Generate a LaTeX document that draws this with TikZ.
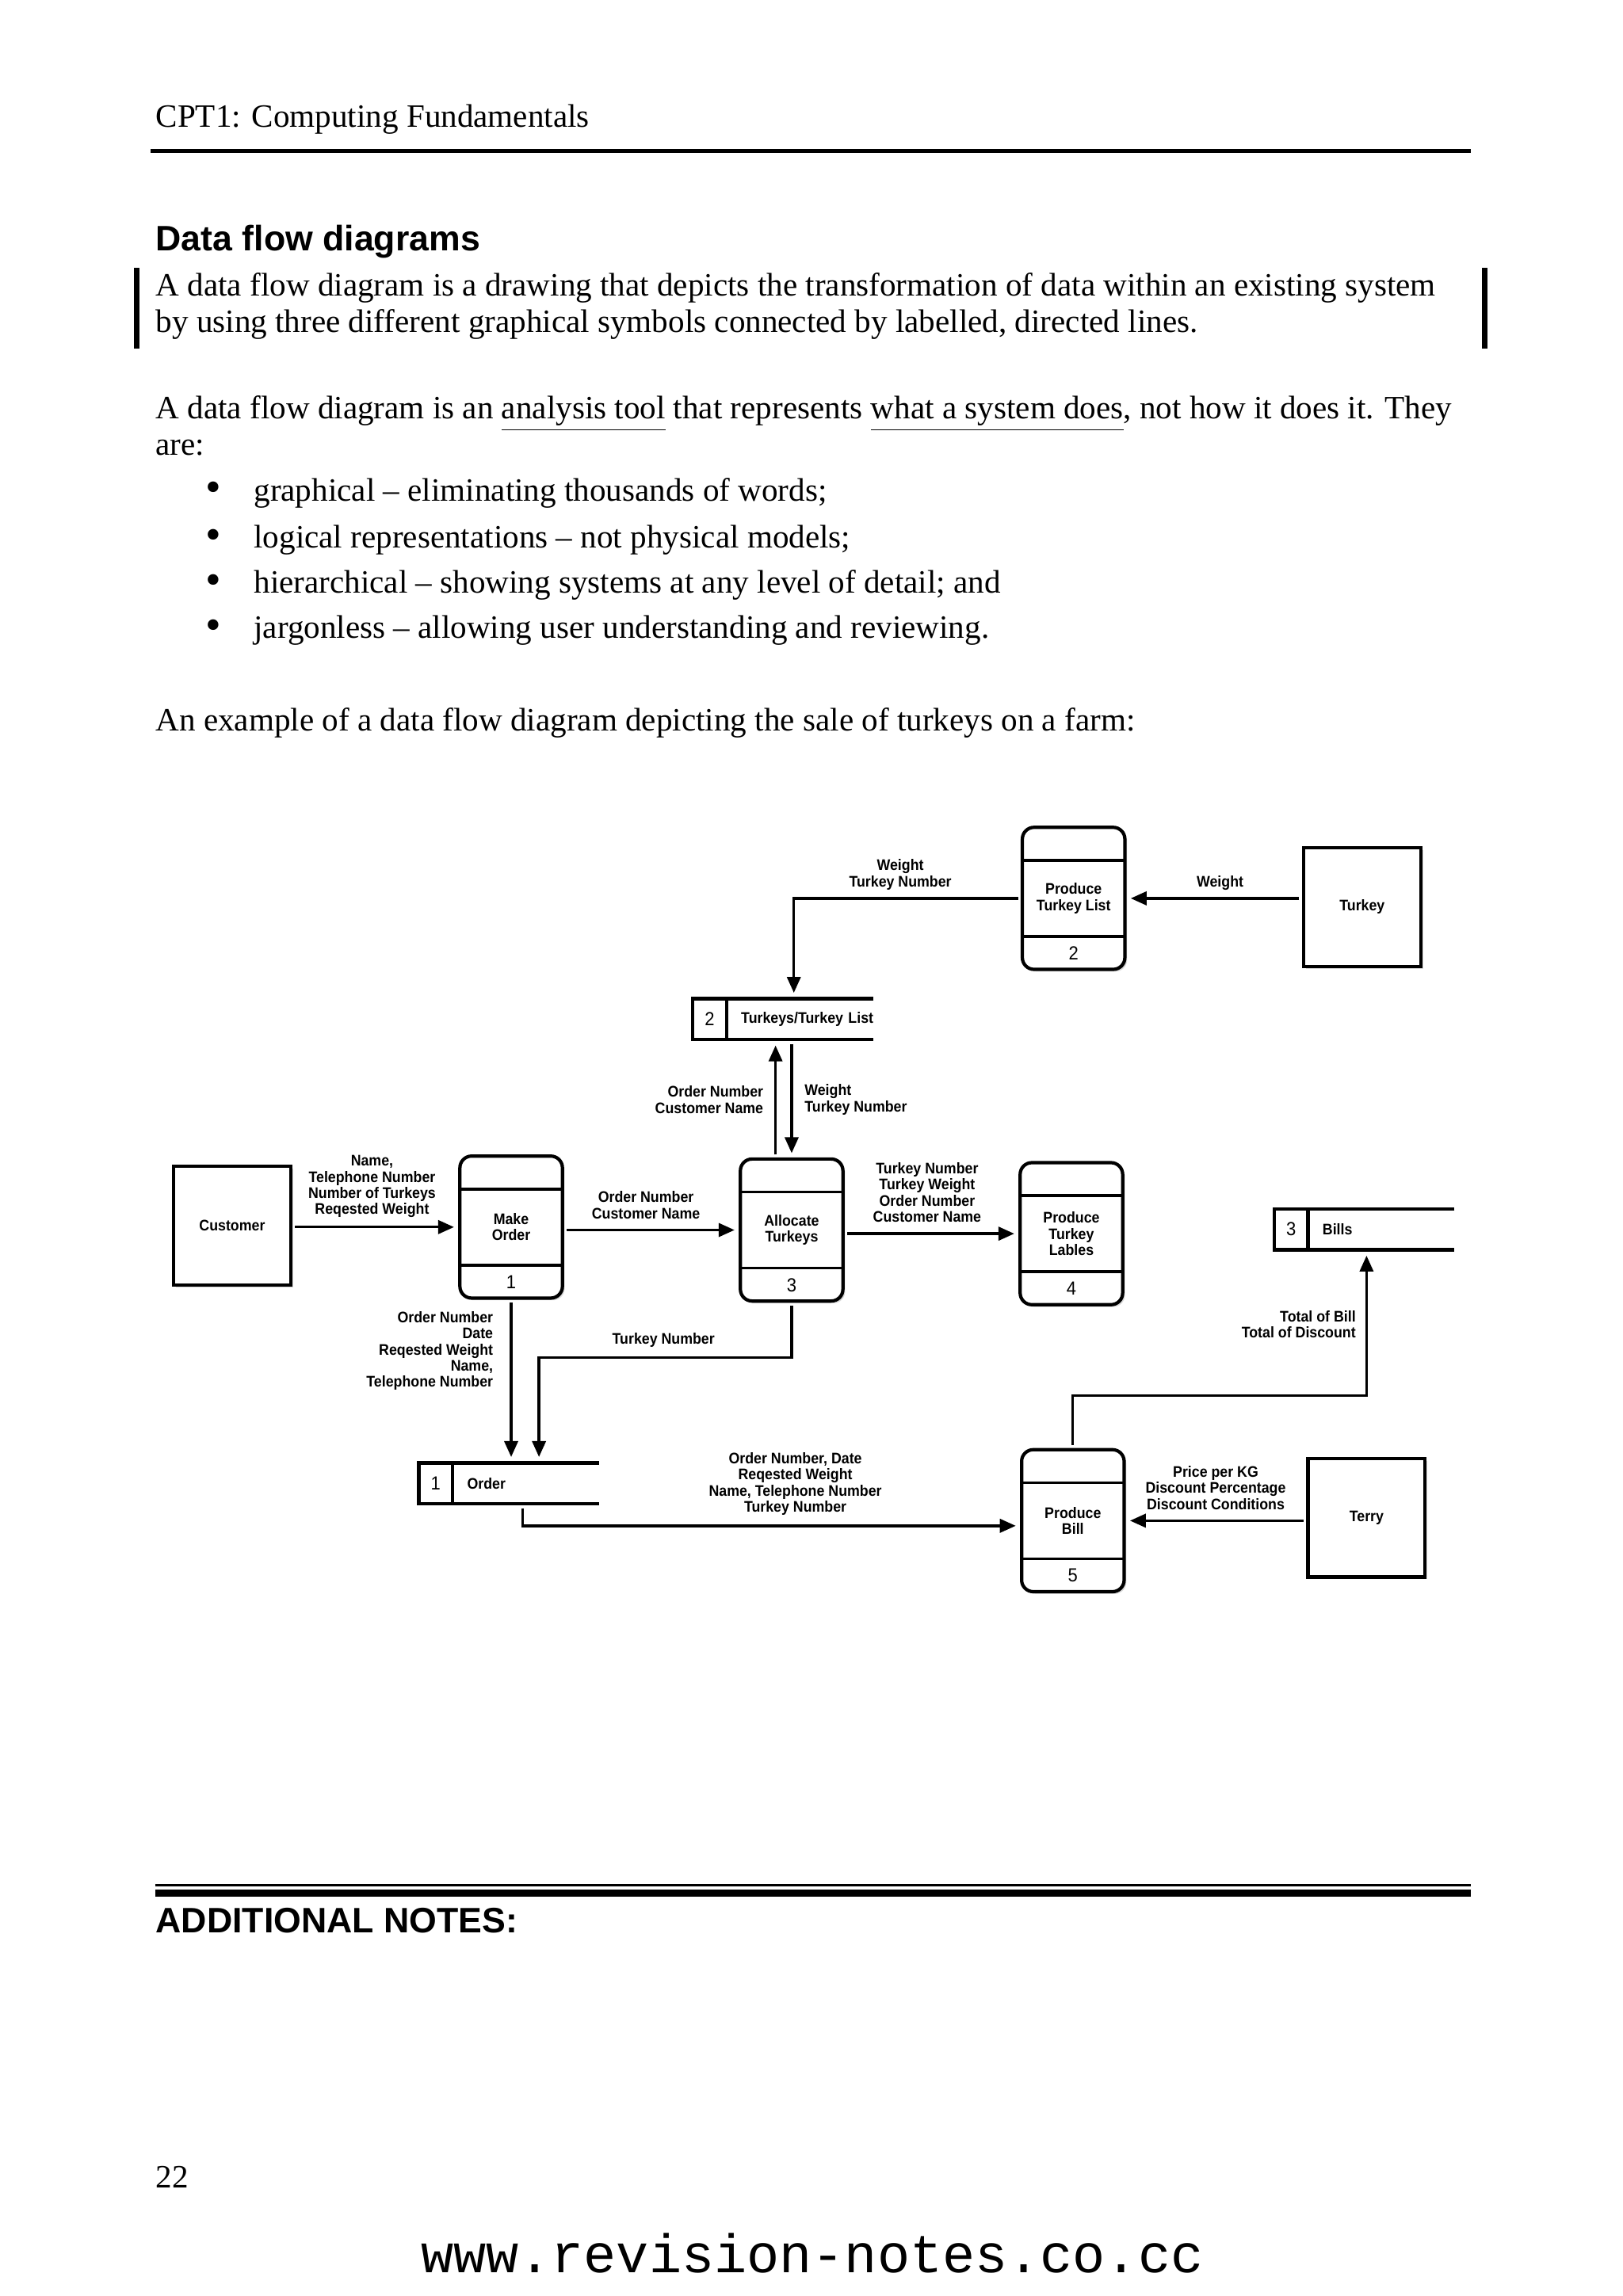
\documentclass[tikz,border=0pt]{standalone}
\usepackage{fontspec}
\setmainfont{Liberation Serif}
\setsansfont{Liberation Sans}
\setmonofont{Liberation Mono}
\newfontfamily\dfdfont[FakeStretch=0.92]{Liberation Sans}
\usetikzlibrary{arrows.meta,positioning,shadows}

\newlength\pxu
\setlength\pxu{0.01848cm}

\tikzset{
  body/.style={font=\fontsize{11.7}{14}\selectfont, anchor=base west, inner sep=0pt},
  heading/.style={font=\sffamily\bfseries\fontsize{12.7}{15}\selectfont, anchor=base west, inner sep=0pt},
  lbl/.style={font=\dfdfont\bfseries\fontsize{5.5}{5.8}\selectfont, align=center, inner sep=0pt},
  num/.style={font=\dfdfont\fontsize{6.8}{7}\selectfont, inner sep=0pt, outer sep=0pt},
  process/.style={lbl, draw, line width=1.2pt, rounded corners=8\pxu, minimum width=70\pxu,
    minimum height=97\pxu, outer sep=0pt, fill=white,
    drop shadow={shadow xshift=1.5\pxu, shadow yshift=-1.5\pxu, fill=black!30}},
  entity/.style={lbl, draw, line width=1.2pt, minimum width=80\pxu, minimum height=81\pxu,
    outer sep=0pt, fill=white,
    drop shadow={shadow xshift=1.5\pxu, shadow yshift=-1.5\pxu, fill=black!30}},
  store/.style={lbl, align=left, text width=80\pxu, inner xsep=10\pxu, minimum height=28\pxu, outer sep=0pt},
  storeid/.style={num, minimum width=23\pxu, minimum height=28\pxu},
  storeline/.style={line width=1.2pt},
  divider/.style={line width=1pt},
  flow/.style={line width=0.95pt, -{Triangle[length=0.2cm, width=0.17cm]},
    shorten <=3\pxu, shorten >=4\pxu},
}

\begin{document}
\begin{tikzpicture}[x=0.01848cm, y=-0.01848cm]
        % Page area
        \fill[white] (0,0) rectangle (1108,1568);
        \useasboundingbox (0,0) rectangle (1108,1568);

        % Header
        \node[body] (hdr) at (106,87) {CPT1: Computing Fundamentals};
        \draw[line width=2.7\pxu] (103,103) -- (1004,103);

        % Text above the diagram
        \node[heading] (title) at (106,171) {Data flow diagrams};
        \node[body] (intro1) at (106,202) {A data flow diagram is a drawing that depicts the transformation of data within an existing system};
        \node[body] (intro2) at (106,227) {by using three different graphical symbols connected by labelled, directed lines.};
        \draw[line width=4\pxu] (93.3,183) -- (93.3,238);
        \draw[line width=4\pxu] (1013.8,183) -- (1013.8,238);

        \node[body] (para1) at (106,286) {A data flow diagram is an \underline{analysis tool} that represents \underline{what a system does}, not how it does it. They};
        \node[body] (para2) at (106,311) {are:};
        \foreach \i/\y/\t in {1/342/{graphical -- eliminating thousands of words;},
                              2/374/{logical representations -- not physical models;},
                              3/405/{hierarchical -- showing systems at any level of detail; and},
                              4/436/{jargonless -- allowing user understanding and reviewing.}}
        {
            \node[body, font=\fontsize{16}{16}\selectfont] (dot\i) at (140,\y+1) {\textbullet};
            \node[body] (item\i) at (173,\y) {\t};
        }
        \node[body] (example) at (106,499) {An example of a data flow diagram depicting the sale of turkeys on a farm:};

        % Processes
        \node[process] (p2) at (733,613.5) {Produce\\Turkey List};
        \node[process] (p1) at (349,838) {Make\\Order};
        \node[process] (p3) at (540.5,840) {Allocate\\Turkeys};
        \node[process] (p4) at (731.5,842.5) {Produce\\Turkey\\Lables};
        \node[process] (p5) at (732.5,1038.5) {Produce\\Bill};
        \foreach \p/\n in {p1/1,p2/2,p3/3,p4/4,p5/5}
        {
            \draw[divider] (\p.west) ++(0,-26) -- ++(70,0);
            \draw[divider] (\p.west) ++(0,26) -- ++(70,0);
            \node[num, above=6.4\pxu of \p.south] (n\n) {\n};
        }

        % External entities
        \node[entity] (customer) at (158.5,837) {Customer};
        \node[entity] (turkey) at (930,619.5) {Turkey};
        \node[entity] (terry) at (933,1036.5) {Terry};

        % Data stores
        \node[store] (s2) at (546,696) {\mbox{Turkeys/Turkey List}};
        \node[storeid, left=0pt of s2] (s2id) {2};
        \node[store] (s3) at (943,839.5) {Bills};
        \node[storeid, left=0pt of s3] (s3id) {3};
        \node[store] (s1) at (359,1013) {Order};
        \node[storeid, left=0pt of s1] (s1id) {1};
        \foreach \s in {s1,s2,s3}
        {
            \draw[storeline] (\s.north east) -- (\s id.north west) -- (\s id.south west) -- (\s.south east);
            \draw[storeline] (\s id.north east) -- (\s id.south east);
        }

        % Data flows
        \draw[flow] (turkey.west |- p2.east) -- (p2.east);
        \draw[flow] (p2.west) -| ([xshift=-4\pxu]s2.north);
        \draw[flow] ([xshift=-11\pxu]p3.north) -- ([xshift=-11\pxu]p3.north |- s2.south);
        \draw[flow] (p3.north |- s2.south) -- (p3.north);
        \draw[flow] (customer.east |- p1.west) -- (p1.west);
        \draw[flow] (p1.east |- p3.west) -- (p3.west);
        \draw[flow] (p3.east |- p4.west) -- (p4.west);
        \draw[flow] (p1.south) -- (p1.south |- s1.north);
        \draw[flow] (p3.south) -- ++(0,38.6) -| ([xshift=9\pxu]s1.north);
        \draw[flow] ([xshift=-2\pxu]s1.south) |- ([yshift=-3.5\pxu]p5.west);
        \draw[flow] (p5.north) -- ++(0,-37) -| ([xshift=-10\pxu]s3.south);
        \draw[flow] (terry.west |- p5.east) -- (p5.east);

        % Flow labels
        \node[lbl] (lab1) at (614.7,597.3) {Weight\\Turkey Number};
        \node[lbl] (lab2) at (833,603) {Weight};
        \node[lbl, anchor=east, align=right] (lab3) at (521.5,751) {Order Number\\Customer Name};
        \node[lbl, anchor=west, align=left] (lab4) at (549,751) {Weight\\Turkey Number};
        \node[lbl] (lab5) at (254,810.3) {Name,\\Telephone Number\\Number of Turkeys\\Reqested Weight};
        \node[lbl] (lab6) at (441,823) {Order Number\\Customer Name};
        \node[lbl] (lab7) at (633,814.3) {Turkey Number\\Turkey Weight\\Order Number\\Customer Name};
        \node[lbl, anchor=east, align=right] (lab8) at (926,904.5) {Total of Bill\\Total of Discount};
        \node[lbl, anchor=east, align=right] (lab9) at (337,922.5) {Order Number\\Date\\Reqested Weight\\Name,\\Telephone Number};
        \node[lbl] (lab10) at (453,915) {Turkey Number};
        \node[lbl] (lab11) at (543,1013.5) {Order Number, Date\\Reqested Weight\\Name, Telephone Number\\Turkey Number};
        \node[lbl] (lab12) at (830,1016) {Price per KG\\Discount Percentage\\Discount Conditions};

        % Footer
        \draw[line width=1.8\pxu] (106,1287.3) -- (1004,1287.3);
        \draw[line width=4.9\pxu] (106,1293) -- (1004,1293);
        \node[heading] (notes) at (106,1320) {ADDITIONAL NOTES:};
        \node[body] (page) at (106,1494) {22};
        \node[font=\ttfamily\fontsize{19.5}{20}\selectfont, anchor=base, inner sep=0pt] (url) at (554.5,1552) {www.revision-notes.co.cc};

    \end{tikzpicture}
\end{document}
